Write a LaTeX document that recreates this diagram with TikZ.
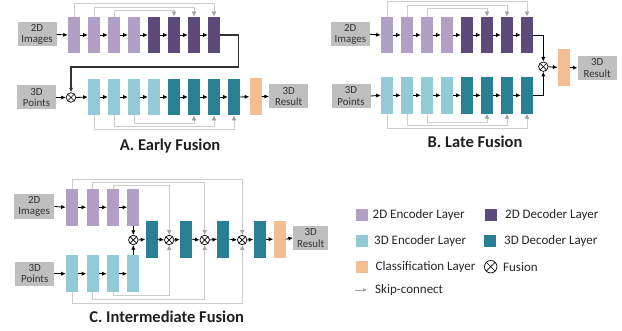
\documentclass[tikz,border=0pt]{standalone}
\usepackage{fontspec}
\setmainfont{Carlito}
\usetikzlibrary{arrows.meta}
\definecolor{encA}{RGB}{176,160,198}
\definecolor{decA}{RGB}{92,74,122}
\definecolor{encB}{RGB}{146,202,216}
\definecolor{decB}{RGB}{41,128,148}
\definecolor{cls}{RGB}{244,190,146}
\definecolor{boxg}{RGB}{191,191,191}
\definecolor{skipg}{RGB}{205,205,205}
\definecolor{skiph}{RGB}{160,160,160}
\begin{document}
\begin{tikzpicture}[x=1pt,y=-1pt,
  lay/.style={minimum width=12pt, minimum height=36.5pt, inner sep=0pt, draw=none},
  io/.style={fill=boxg, minimum width=39pt, minimum height=24pt, inner sep=0pt, align=center,
    font=\fontsize{10.9}{11.5}\selectfont, text=black!80},
  fus/.style={circle, draw=black, line width=0.7pt, minimum size=9.5pt, inner sep=0pt, fill=white,
    path picture={\draw[line width=0.7pt] (path picture bounding box.south west) -- (path picture bounding box.north east)
      (path picture bounding box.north west) -- (path picture bounding box.south east);}},
  main/.style={-{Latex[length=4.6pt,width=4.2pt]}, line width=0.85pt, black},
  skip/.style={draw=skipg, line width=0.8pt, -{Latex[length=5pt,width=5pt,color=skiph]}},
  ttl/.style={font=\fontsize{16.5}{18}\selectfont\bfseries, text=black!88},
  leg/.style={font=\fontsize{13}{14}\selectfont, text=black!85, anchor=west, inner sep=0pt},
  sq/.style={minimum size=12pt, inner sep=0pt, draw=none}
]
\useasboundingbox (0,0) rectangle (622,331);

% ---------------- Panel A ----------------
\node[io] (aI2) at (37,34.5) {2D\\Images};
\node[io] (aI3) at (36.5,97.5) {3D\\Points};
\node[io] (aO) at (288.7,96.3) {3D\\Result};
\foreach \k in {1,...,4} {
  \node[lay, fill=encA] (aT\k) at ({74+20*(\k-1)},35) {};
  \node[lay, fill=encB] (aB\k) at ({94+20*(\k-1)},97) {};
}
\foreach \k in {5,...,8} {
  \node[lay, fill=decA] (aT\k) at ({74+20*(\k-1)},35) {};
  \node[lay, fill=decB] (aB\k) at ({94+20*(\k-1)},97) {};
}
\node[lay, fill=cls] (aC) at (255.5,96.7) {};
\node[fus] (aF) at (71,97.5) {};
% skips
\draw[skip] (aT1.north) -- ++(0,-13) -| (aT8.north);
\draw[skip] (aT2.north) -- ++(0,-9) -| (aT7.north);
\draw[skip] (aT3.north) -- ++(0,-6) -| (aT6.north);
\draw[skip] (aB1.south) -- ++(0,14) -| (aB8.south);
\draw[skip] (aB2.south) -- ++(0,11) -| (aB7.south);
\draw[skip] (aB3.south) -- ++(0,7.7) -| (aB6.south);
% main
\draw[main] (aI2.east) -- (aT1.west);
\foreach \a/\b in {1/2,2/3,3/4,4/5,5/6,6/7,7/8} {
  \draw[main] (aT\a.east) -- (aT\b.west);
  \draw[main] (aB\a.east) -- (aB\b.west);
}
\draw[main, draw=black!80, line width=1.1pt] (aT8.east) -| ++(18,32) -| (aF.north);
\draw[main] (aI3.east) -- (aF.west);
\draw[main] (aF.east) -- (aB1.west);
\draw[main] (aB8.east) -- (aC.west);
\draw[main] (aC.east) -- (aO.west);
\node[ttl] (aTitle) at (170,146) {A. Early Fusion};

% ---------------- Panel B ----------------
\node[io] (bI2) at (350.3,34.3) {2D\\Images};
\node[io] (bI3) at (351,96) {3D\\Points};
\node[io] (bO) at (597.2,67.9) {3D\\Result};
\foreach \k in {1,...,4} {
  \node[lay, fill=encA] (bT\k) at ({387+20*(\k-1)},35) {};
  \node[lay, fill=encB] (bB\k) at ({387+20*(\k-1)},95.3) {};
}
\foreach \k in {5,...,8} {
  \node[lay, fill=decA] (bT\k) at ({387+20*(\k-1)},35) {};
  \node[lay, fill=decB] (bB\k) at ({387+20*(\k-1)},95.3) {};
}
\node[lay, fill=cls, minimum height=37pt] (bC) at (563.7,67.5) {};
\node[fus] (bF) at (543.3,66.7) {};
\draw[skip] (bT1.north) -- ++(0,-15.3) -| (bT8.north);
\draw[skip] (bT2.north) -- ++(0,-11.3) -| (bT7.north);
\draw[skip] (bT3.north) -- ++(0,-7.7) -| (bT6.north);
\draw[skip] (bB1.south) -- ++(0,15) -| (bB8.south);
\draw[skip] (bB2.south) -- ++(0,11.7) -| (bB7.south);
\draw[skip] (bB3.south) -- ++(0,8.4) -| (bB6.south);
\draw[main] (bI2.east) -- (bT1.west);
\draw[main] (bI3.east) -- (bB1.west);
\foreach \a/\b in {1/2,2/3,3/4,4/5,5/6,6/7,7/8} {
  \draw[main] (bT\a.east) -- (bT\b.west);
  \draw[main] (bB\a.east) -- (bB\b.west);
}
\draw[main] (bT8.east) -| (bF.north);
\draw[main] (bB8.east) -| (bF.south);
\draw[main] (bF.east) -- (bC.west);
\draw[main] (bC.east) -- (bO.west);
\node[ttl] (bTitle) at (475,141.7) {B. Late Fusion};

% ---------------- Panel C ----------------
\node[io, minimum width=40pt, minimum height=25pt] (cI2) at (34.2,206.5) {2D\\Images};
\node[io] (cI3) at (34.7,273.7) {3D\\Points};
\node[io, minimum width=35pt] (cO) at (310.7,237.8) {3D\\Result};
\foreach \k/\x in {1/72,2/92.5,3/113,4/133.3} {
  \node[lay, fill=encA] (cT\k) at (\x,207.3) {};
  \node[lay, fill=encB, minimum height=37pt] (cB\k) at (\x,273.7) {};
}
\foreach \k/\x in {1/151.5,2/186,3/223.3,4/259.5} {
  \node[lay, fill=decB, minimum height=37pt] (cD\k) at (\x,239.2) {};
}
\node[lay, fill=cls, minimum height=37pt] (cC) at (279.5,239.2) {};
\foreach \k/\x in {1/133.3,2/169.2,3/204.7,4/242.2} {
  \node[fus] (cF\k) at (\x,240) {};
}
\draw[skip] (cT1.north) -- ++(0,-9.7) -| (cF4.north);
\draw[skip] (cT2.north) -- ++(0,-6.3) -| (cF3.north);
\draw[skip] (cT3.north) -- ++(0,-3) -| (cF2.north);
\draw[skip] (cB1.south) -- ++(0,11) -| (cF4.south);
\draw[skip] (cB2.south) -- ++(0,7) -| (cF3.south);
\draw[skip] (cB3.south) -- ++(0,3.4) -| (cF2.south);
\draw[main] (cI2.east) -- (cT1.west);
\draw[main] (cI3.east) -- (cB1.west);
\foreach \a/\b in {1/2,2/3,3/4} {
  \draw[main] (cT\a.east) -- (cT\b.west);
  \draw[main] (cB\a.east) -- (cB\b.west);
}
\draw[main] (cT4.south) -- (cF1.north);
\draw[main] (cB4.north) -- (cF1.south);
\foreach \k in {1,...,4} {
  \draw[main] (cF\k.east) -- (cD\k.west);
}
\draw[main] (cD1.east) -- (cF2.west);
\draw[main] (cD2.east) -- (cF3.west);
\draw[main] (cD3.east) -- (cF4.west);
\draw[main] (cD4.east) -- (cC.west);
\draw[main] (cC.east) -- (cO.west);
\node[ttl] (cTitle) at (166.7,316.7) {C. Intermediate Fusion};

% ---------------- Legend ----------------
\node[sq, fill=encA] (l1) at (361.5,215) {};
\node[leg] (t1) at (372.5,215) {2D Encoder Layer};
\node[sq, fill=decA] (l2) at (491.2,215) {};
\node[leg] (t2) at (505,215) {2D Decoder Layer};
\node[sq, fill=encB] (l3) at (361.5,241.5) {};
\node[leg] (t3) at (374,241.5) {3D Encoder Layer};
\node[sq, fill=decB] (l4) at (490,241.5) {};
\node[leg] (t4) at (504,241.5) {3D Decoder Layer};
\node[sq, fill=cls] (l5) at (361.5,267.5) {};
\node[leg] (t5) at (375.5,267.5) {Classification Layer};
\node[fus, minimum size=12.5pt] (l6) at (490.7,266.7) {};
\node[leg] (t6) at (503,267) {Fusion};
\coordinate (l7a) at (355,290);
\coordinate (l7b) at (367,290);
\draw[draw=skiph, line width=0.8pt, -{Latex[length=4pt,width=4pt,color=skiph]}] (l7a) -- (l7b);
\node[leg] (t7) at (375,290) {Skip-connect};
\end{tikzpicture}
\end{document}
